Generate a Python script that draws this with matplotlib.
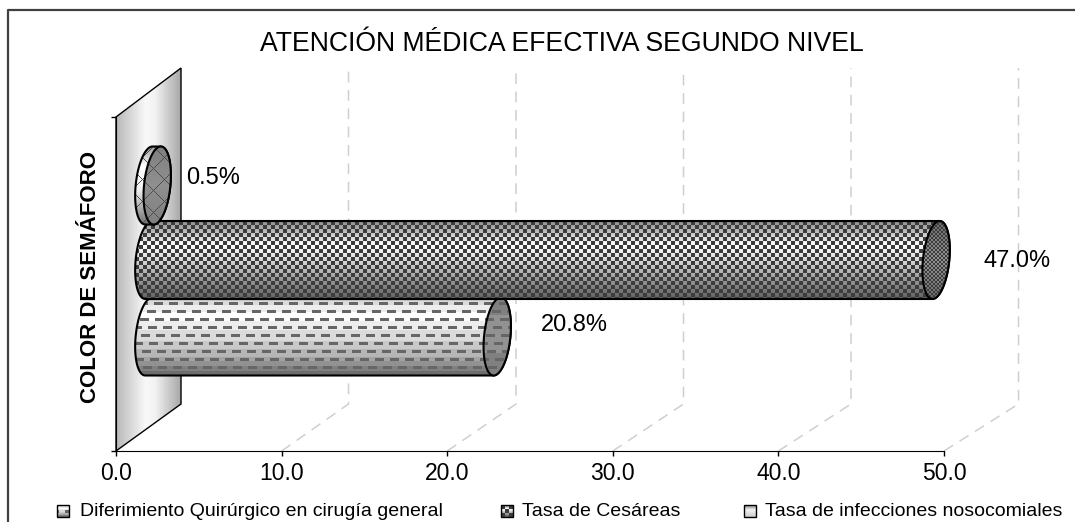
import numpy as np
import matplotlib
matplotlib.use("Agg")
import matplotlib.pyplot as plt
from matplotlib.lines import Line2D
from matplotlib.patches import Polygon

# datos
series_names = ["Diferimiento Quirúrgico en cirugía general", "Tasa de Cesáreas",
                "Tasa de infecciones nosocomiales"]
series_values = [20.8, 47.0, 0.5]
x_ticks = [0, 10, 20, 30, 40, 50]
title = "ATENCIÓN MÉDICA EFECTIVA SEGUNDO NIVEL"
y_label = "COLOR DE SEMÁFORO"

plt.rcParams['font.family'] = ['Liberation Sans', 'DejaVu Sans']

W, H = 1075, 522
X0, X50, Y0, Y1 = 116, 944, 451, 117  # pixeles del eje frontal
sx = (X50 - X0) / 50.0
sy = float(Y0 - Y1)
DEPTH_X = 65 / sx
DEPTH_Y = 47 / sy
TOP_Y = 1 + 49 / sy
BACK_SCALE = 1.0115


def px(x, y):
    # pixel -> coordenadas de datos
    return (x - X0) / sx, (Y0 - y) / sy


def texture(x_a, x_b, y_a, y_b, rgb, clip, z):
    im = ax.imshow(rgb, extent=(x_a, x_b, y_a, y_b), origin='upper', aspect='auto',
                   interpolation='nearest', cmap='gray', vmin=0, vmax=1, zorder=z)
    im.set_clip_box(fig.bbox)
    im.set_clip_path(clip)
    return im


def profile(h, stops):
    pos, val = zip(*stops)
    return np.interp(np.linspace(0, 1, h), pos, val)


def pat_checker(h, w, cap=False):
    g = profile(h, [(0, .55), (.12, .72), (.3, 1.0), (.5, .85), (.8, .55), (1, .38)])
    cell = 4
    if cap:
        g = profile(h, [(0, .42), (.5, .58), (1, .42)])
        cell = 2
    img = np.tile(g[:, None], (1, w))
    yy, xx = np.mgrid[:h, :w]
    img[((xx // cell + yy // cell) % 2) == 0] = .24
    return img


def pat_dash(h, w, cap=False):
    g = profile(h, [(0, .75), (.12, .92), (.25, 1.0), (.33, .95), (.45, .88), (.6, .8),
                    (.75, .7), (.9, .52), (1, .42)])
    if cap:
        g = profile(h, [(0, .5), (.5, .58), (1, .48)])
    g = np.round(g * 14) / 14
    img = np.tile(g[:, None], (1, w))
    yy, xx = np.mgrid[:h, :w]
    row = (yy + 3) // 8
    dash = ((yy + 3) % 8 < 3) & ((xx + row * 7) % 15 < 9)
    img[dash] = .4
    return img


def pat_brick(h, w, cap=False):
    g = profile(h, [(0, .6), (.25, 1.0), (.55, .95), (1, .45)])
    if cap:
        g = profile(h, [(0, .5), (.5, .56), (1, .5)])
    img = np.tile(g[:, None], (1, w))
    yy, xx = np.mgrid[:h, :w]
    img[((xx + yy) % 22 < 1) | ((xx - yy) % 22 < 1)] = .3
    return img


def pat_shade(h, w, cap=False):
    g = profile(h, [(0, .55), (.4, .95), (1, .8)])
    return np.tile(g[:, None], (1, w))


def ellipse_pts(cx, cy, t):
    # elipse algo inclinada, como la tapa del cilindro
    return np.column_stack([cx + RX * np.cos(t) + SKEW * np.sin(t), cy + RY * np.sin(t)])


def cylinder(value, yc, pattern, z):
    start = DEPTH_X / 2 + 0.02
    end = start + value * BACK_SCALE
    left = ellipse_pts(start, yc, np.linspace(np.pi / 2, 3 * np.pi / 2, 40))
    right = ellipse_pts(end, yc, np.linspace(3 * np.pi / 2, 5 * np.pi / 2, 40))
    body = Polygon(np.vstack([left, right]), closed=True, fc='none', ec='black',
                   lw=1.5, zorder=z + 0.2, clip_on=False)
    ax.add_patch(body)
    xa, xb = start - RX - 0.3, end + RX + 0.3
    ya, yb = yc - RY, yc + RY
    h, w = int(round((yb - ya) * sy)), int(round((xb - xa) * sx))
    texture(xa, xb, ya, yb, pattern(h, w), body, z)
    cap = Polygon(ellipse_pts(end, yc, np.linspace(0, 2 * np.pi, 80)), closed=True,
                  fc='none', ec='black', lw=1.5, zorder=z + 0.4, clip_on=False)
    ax.add_patch(cap)
    texture(xa, xb, ya, yb, pattern(h, w, cap=True), cap, z + 0.3)
    return end


fig = plt.figure(figsize=(W / 100, H / 100), dpi=100)
ax = fig.add_axes([X0 / W, 1 - Y0 / H, (X50 - X0) / W, (Y0 - Y1) / H])
ax.patch.set_alpha(0)

RX, RY, SKEW = 13.2 / sx, 39 / sy, 3.6 / sx

# lineas de division con profundidad
for v in x_ticks[1:]:
    bx = DEPTH_X + v * BACK_SCALE
    ax.plot([v, bx, bx], [0, DEPTH_Y, TOP_Y], color='#cfcfcf', lw=1.1,
            ls=(0, (7, 5)), zorder=1, clip_on=False)

# pared lateral
wall = Polygon([(0, 0), (DEPTH_X, DEPTH_Y), (DEPTH_X, TOP_Y), (0, 1)], closed=True,
               fc='none', ec='black', lw=1, zorder=2.2, clip_on=False)
ax.add_patch(wall)
wall_g = profile(65, [(0, .72), (.45, .97), (.6, .95), (1, .66)])[None, :]
texture(0, DEPTH_X, 0, TOP_Y, wall_g, wall, 2)

# cilindros
patterns = [pat_dash, pat_checker, pat_brick]
centers = [336.5, 260, 185.5]
label_offset = [(44, -11.5), (47, 1), (29, -7.5)]
for i, (val, pat) in enumerate(zip(series_values, patterns)):
    yc = px(0, centers[i])[1]
    end = cylinder(val, yc, pat, 3 + i)
    ax.annotate(f"{val:.1f}%", xy=(end, yc), xytext=(label_offset[i][0] * .72, -label_offset[i][1] * .72),
                textcoords='offset points', va='center', ha='left', fontsize=17, zorder=10,
                annotation_clip=False)

ax.set_xlim(0, 50)
ax.set_ylim(0, 1)
ax.set_xticks(x_ticks)
ax.set_xticklabels([f"{v:.1f}" for v in x_ticks], fontsize=16.5)
ax.set_yticks([0, 1])
ax.set_yticklabels([])
ax.tick_params(length=3.6, width=1, pad=4.5)
ax.spines['top'].set_visible(False)
ax.spines['right'].set_visible(False)
ax.spines['left'].set_zorder(2.5)

fig.text(562 / W, 1 - 44 / H, title, ha='center', va='center', fontsize=19.2)
fig.text(90 / W, 1 - 277 / H, y_label, rotation=90, ha='center', va='center',
         fontsize=16, fontweight='bold')

# leyenda
legend_x = [(57, 80), (501, 522), (744, 765)]
legend_pat = [pat_dash, pat_checker, pat_shade]
for name, (mx, tx), pat in zip(series_names, legend_x, legend_pat):
    xa, yb = px(mx, 505)
    xb, ya = px(mx + 12, 517)
    box = Polygon([(xa, ya), (xb, ya), (xb, yb), (xa, yb)], closed=True, fc='none',
                  ec='black', lw=1, zorder=6, clip_on=False)
    ax.add_patch(box)
    texture(xa, xb, ya, yb, pat(12, 12), box, 5)
    fig.text(tx / W, 1 - 511.5 / H, name, ha='left', va='center', fontsize=14)

ax.set_xlim(0, 50)
ax.set_ylim(0, 1)

# marco del grafico (sin lado derecho ni inferior visibles)
fig.add_artist(Line2D([8 / W, 8 / W, 1], [0, 1 - 10 / H, 1 - 10 / H], color='#404040', lw=1.6))

fig.savefig("out.png", dpi=100)
